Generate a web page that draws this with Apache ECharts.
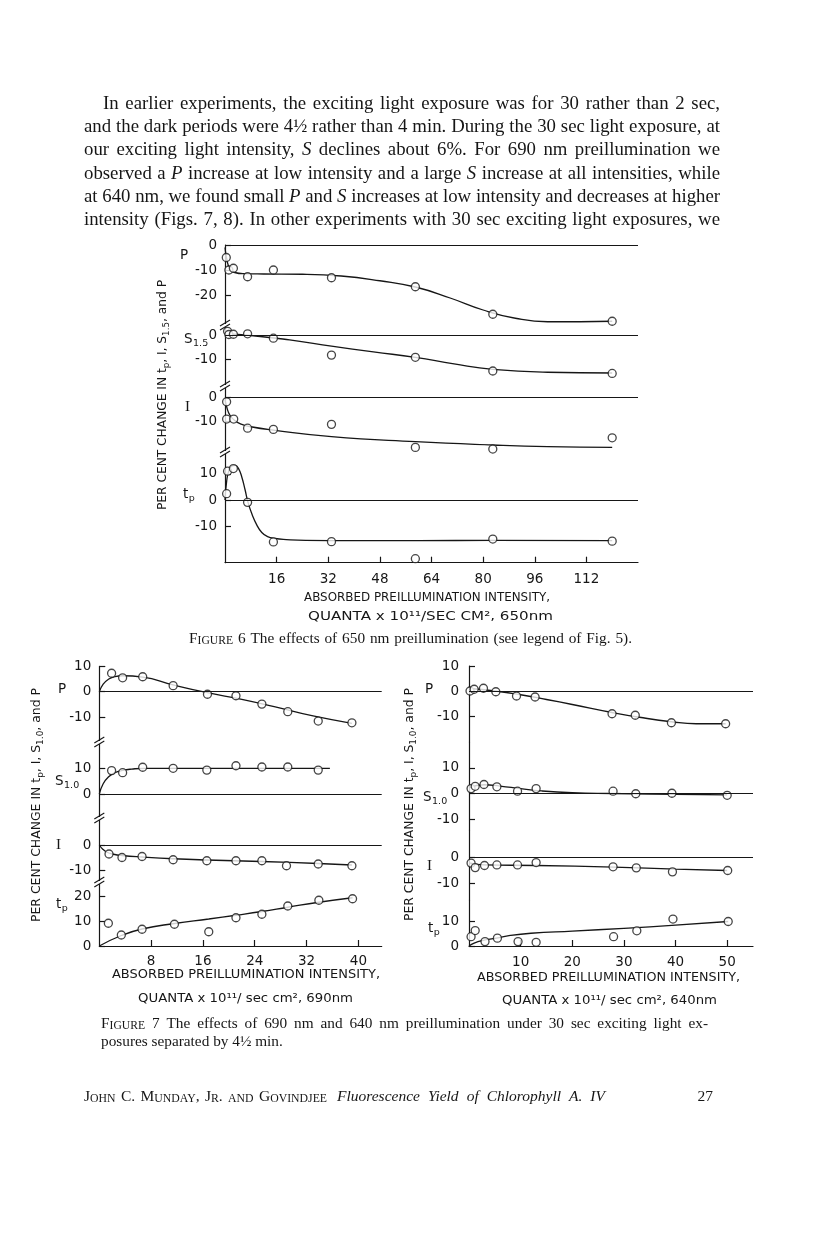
<!DOCTYPE html>
<html>
<head>
<meta charset="utf-8">
<script src="https://cdn.jsdelivr.net/npm/echarts@6/dist/echarts.min.js"></script>
<style>
html,body{margin:0;padding:0;background:#fff;}
#c{width:816px;height:1234px;}
</style>
</head>
<body>
<div id="c"></div>
<script>
// ================= DATA =================
// ---- Figure 6 : 650 nm ----
const fig6XTicks = [16, 32, 48, 64, 80, 96, 112];
const fig6PTicks = [0, -10, -20];
const fig6STicks = [0, -10];
const fig6ITicks = [0, -10];
const fig6TpTicks = [10, 0, -10];

const fig6PX = [0.4, 1.2, 2.6, 7, 15, 33, 59, 83, 120];
const fig6PY = [-5, -10, -9.3, -12.7, -10, -13.1, -16.7, -27.7, -30.5];
const fig6PCurveX = [0, 0.6, 1.5, 3, 6, 12, 24, 36, 48, 59, 70, 80, 90, 100, 120];
const fig6PCurveY = [-1, -6, -9.5, -11, -11.5, -11.6, -11.7, -12.4, -14.3, -16.8, -21.3, -26, -29.3, -30.7, -30.5];

const fig6SX = [0.8, 1.2, 2.6, 7, 15, 33, 59, 83, 120];
const fig6SY = [1.5, 0.2, 0.3, 0.5, -1.3, -8.2, -9.1, -14.7, -15.7];
const fig6SCurveX = [0, 8, 20, 33, 46, 59, 71, 83, 100, 120];
const fig6SCurveY = [0.4, -0.2, -2, -4.5, -6.9, -9.1, -11.8, -14, -15.2, -15.5];

const fig6IX = [0.5, 0.5, 2.7, 7, 15, 33, 59, 83, 120];
const fig6IY = [-2, -9.2, -9.2, -13, -13.5, -11.4, -21, -21.7, -17];
const fig6ICurveX = [0, 0.6, 1.5, 3, 5, 8, 15, 33, 59, 83, 100, 120];
const fig6ICurveY = [-1, -4.5, -7.5, -9.8, -11.3, -12.4, -13.8, -16.5, -18.6, -20, -20.7, -21];

const fig6TpX = [0.5, 0.8, 2.6, 7, 15, 33, 59, 83, 120];
const fig6TpY = [2.4, 11, 12, -0.9, -16, -15.9, -22.4, -14.9, -15.7];
const fig6TpCurveX = [0, 0.5, 1.2, 2.2, 3.2, 4.2, 5.2, 6.2, 7.2, 8.4, 9.8, 11.4, 13.2, 15.5, 19, 25, 40, 60, 83, 120];
const fig6TpCurveY = [0, 7, 11.2, 13, 13.2, 12, 8.8, 4, -1.2, -5.5, -9.4, -12.4, -14, -14.7, -15.1, -15.4, -15.5, -15.5, -15.4, -15.5];

// ---- Figure 7 left : 690 nm ----
const f7LXTicks = [8, 16, 24, 32, 40];
const f7LPTicks = [10, 0, -10];
const f7LSTicks = [10, 0];
const f7LITicks = [0, -10];
const f7LTpTicks = [20, 10, 0];

const f7LPX = [1.9, 3.6, 6.7, 11.4, 16.7, 21.1, 25.1, 29.1, 33.8, 39];
const f7LPY = [7.3, 5.5, 5.9, 2.4, -1, -1.6, -4.9, -7.9, -11.6, -12.3];
const f7LPCurveX = [0, 0.6, 1.4, 2.4, 3.6, 6.7, 11.4, 16.7, 22, 27, 33, 39];
const f7LPCurveY = [0, 3, 4.9, 6, 6.3, 5.8, 2.7, -0.4, -3, -5.9, -9.6, -12.5];

const f7LSX = [1.9, 3.6, 6.7, 11.4, 16.6, 21.1, 25.1, 29.1, 33.8];
const f7LSY = [9.1, 8.3, 10.4, 10, 9.3, 11, 10.5, 10.5, 9.3];
const f7LSCurveX = [0, 0.6, 1.4, 2.4, 3.6, 5, 7, 10, 20, 35.6];
const f7LSCurveY = [0, 4, 6.6, 8.3, 9.2, 9.7, 10, 10, 10, 10];

const f7LIX = [1.5, 3.5, 6.6, 11.4, 16.6, 21.1, 25.1, 28.9, 33.8, 39];
const f7LIY = [-3.6, -5, -4.6, -5.9, -6.3, -6.3, -6.3, -8.3, -7.6, -8.3];
const f7LICurveX = [0, 0.5, 1.2, 2.2, 3.5, 6.6, 11.4, 16.6, 25, 33.8, 39];
const f7LICurveY = [0, -1.6, -2.9, -3.7, -4.2, -4.8, -5.5, -6, -6.6, -7.4, -8];

const f7LTpX = [1.4, 3.4, 6.6, 11.6, 16.9, 21.1, 25.1, 29.1, 33.9, 39.1];
const f7LTpY = [9.1, 4.4, 6.7, 8.7, 5.7, 11.3, 12.7, 16, 18.3, 18.9];
const f7LTpCurveX = [0, 3.4, 6.6, 11.6, 16.9, 21.1, 25.1, 29.1, 33.9, 39.1];
const f7LTpCurveY = [0, 4.2, 6.8, 9, 10.8, 12.3, 13.8, 15.5, 17.5, 19.3];

// ---- Figure 7 right : 640 nm ----
const f7RXTicks = [10, 20, 30, 40, 50];
const f7RPTicks = [10, 0, -10];
const f7RSTicks = [10, 0, -10];
const f7RITicks = [0, -10];
const f7RTpTicks = [10, 0];

const f7RPX = [0.2, 1.0, 2.8, 5.2, 9.2, 12.8, 27.7, 32.2, 39.2, 49.7];
const f7RPY = [0, 0.7, 1.1, -0.3, -2, -2.4, -9.1, -9.7, -12.7, -13.1];
const f7RPCurveX = [0, 5, 10, 15, 20, 27.7, 33, 39.2, 44, 49.7];
const f7RPCurveY = [1, 0, -1.5, -3.4, -5.4, -8.6, -10.5, -12.3, -13.1, -13.1];

const f7RSX = [0.4, 1.2, 2.9, 5.4, 9.4, 13, 27.9, 32.3, 39.3, 50];
const f7RSY = [1.9, 2.8, 3.5, 2.6, 0.9, 1.9, 0.9, -0.1, 0.1, -0.7];
const f7RSCurveX = [0, 2.9, 6, 10, 14, 20, 27.9, 35, 50];
const f7RSCurveY = [2.2, 3.4, 2.9, 1.9, 1, 0.3, 0, -0.2, -0.5];

const f7RIX = [0.4, 1.2, 3, 5.4, 9.4, 13, 27.9, 32.4, 39.4, 50.1];
const f7RIY = [-2.3, -4, -3.2, -3, -3, -2.1, -3.7, -4.1, -5.6, -5.1];
const f7RICurveX = [0, 3, 13, 28, 40, 50];
const f7RICurveY = [-2.2, -3, -3.2, -3.8, -4.6, -5.1];

const f7RTpX = [0.4, 1.2, 3.1, 5.5, 9.5, 13, 28, 32.5, 39.5, 50.2];
const f7RTpY = [3.8, 6.3, 1.8, 3.2, 1.8, 1.5, 3.8, 6.2, 11, 10];
const f7RTpCurveX = [0, 1, 2.5, 5.3, 8, 12, 20, 30, 40, 50.2];
const f7RTpCurveY = [0, 1.2, 2.2, 3.2, 4.3, 5.2, 6.1, 7.2, 8.5, 10];

// ---- Page text ----
const bodyLines = [
  'In earlier experiments, the exciting light exposure was for 30 rather than 2 sec,',
  'and the dark periods were 4½ rather than 4 min. During the 30 sec light exposure, at',
  'our exciting light intensity, *S* declines about 6%. For 690 nm preillumination we',
  'observed a *P* increase at low intensity and a large *S* increase at all intensities, while',
  'at 640 nm, we found small *P* and *S* increases at low intensity and decreases at higher',
  'intensity (Figs. 7, 8). In other experiments with 30 sec exciting light exposures, we'
];
const fig6Caption = 'F^IGURE^ 6  The effects of 650 nm preillumination (see legend of Fig. 5).';
const fig7Caption1 = 'F^IGURE^ 7  The effects of 690 nm and 640 nm preillumination under 30 sec exciting light ex-';
const fig7Caption2 = 'posures separated by 4½ min.';
const footerAuthors = 'J^OHN^ C. M^UNDAY^, J^R^. ^AND^ G^OVINDJEE^';
const footerTitle = '*Fluorescence Yield of Chlorophyll A. IV*';
const pageNumber = '27';
const xTitle1 = 'ABSORBED PREILLUMINATION INTENSITY,';
const fig6XTitle2 = 'QUANTA x 10¹¹/SEC CM², 650nm';
const f7LXTitle2 = 'QUANTA x 10¹¹/ sec cm², 690nm';
const f7RXTitle2 = 'QUANTA x 10¹¹/ sec cm², 640nm';

// ================= RENDERING =================
const INK = '#161616';
const SANS = '"DejaVu Sans", "Liberation Sans", sans-serif';
const SERIF = '"Liberation Serif", "Times New Roman", serif';

const mctx = document.createElement('canvas').getContext('2d');
function measure(t, font) { mctx.font = font; return mctx.measureText(t).width; }
const zip = (a, b) => a.map((v, i) => [v, b[i]]);

const option = {
  animation: false,
  backgroundColor: '#ffffff',
  grid: [], xAxis: [], yAxis: [], series: [],
  graphic: { elements: [] }
};
const G = option.graphic.elements;

function textEl(t, x, y, font, align, vAlign, extra) {
  return Object.assign({
    type: 'text', x: x, y: y, z: 50, silent: true,
    style: { text: t, font: font, fill: INK, textAlign: align, textVerticalAlign: vAlign, align: align, verticalAlign: vAlign }
  }, extra || {});
}

function parseWords(str) {
  const words = []; let cur = []; let it = false, sc = false, buf = '';
  const flush = () => { if (buf) { cur.push({ t: buf, it: it, sc: sc }); buf = ''; } };
  for (const ch of str) {
    if (ch === '*') { flush(); it = !it; }
    else if (ch === '^') { flush(); sc = !sc; }
    else if (ch === ' ') { flush(); if (cur.length) words.push(cur); cur = []; }
    else buf += ch;
  }
  flush(); if (cur.length) words.push(cur);
  return words;
}
function pieceFont(p, fs, fam) {
  const size = p.sc ? fs * 0.76 : fs;
  return (p.it ? 'italic ' : '') + size.toFixed(2) + 'px ' + fam;
}
// place a line of text starting at x0 (optionally justified to x1); yc = visual centre
function placeLine(str, x0, yc, fs, fam, x1) {
  const words = parseWords(str);
  const pieces = words.map(w => w.map(p => {
    const f = pieceFont(p, fs, fam); const t = p.sc ? p.t.toUpperCase() : p.t;
    return { t: t, f: f, w: measure(t, f) };
  }));
  const widths = pieces.map(w => w.reduce((a, p) => a + p.w, 0));
  const total = widths.reduce((a, b) => a + b, 0);
  let gap = measure(' ', fs + 'px ' + fam);
  if (x1 != null && words.length > 1) gap = (x1 - x0 - total) / (words.length - 1);
  let x = x0;
  const yb = yc + fs * 0.5;
  pieces.forEach(w => {
    w.forEach(p => { G.push(textEl(p.t, x, yb, p.f, 'left', 'bottom')); x += p.w; });
    x += gap;
  });
}
// sans text fitted to a horizontal span
function fitText(t, xa, xb, yc, fs) {
  const f = fs + 'px ' + SANS;
  const w = measure(t, f);
  G.push(textEl(t, (xa + xb) / 2, yc, f, 'center', 'middle', { scaleX: (xb - xa) / w }));
}
// rotated y-axis title, reading bottom to top
function yTitle(xc, ya, yb, subS) {
  const fs = 12.5, sub = 9;
  const txt = 'PER CENT CHANGE IN t{s|p}, I, S{s|' + subS + '}, and P';
  const plain = 'PER CENT CHANGE IN t, I, S, and P';
  const w = measure(plain, fs + 'px ' + SANS) + measure('p' + subS, sub + 'px ' + SANS);
  G.push({
    type: 'text', x: xc, y: (ya + yb) / 2, rotation: Math.PI / 2, scaleX: (yb - ya) / w, z: 50, silent: true,
    style: {
      text: txt, fontSize: fs, fontFamily: SANS, fill: INK, textAlign: 'center', textVerticalAlign: 'middle', align: 'center', verticalAlign: 'middle',
      rich: {
        s: { fontSize: sub, fontFamily: SANS, fill: INK, verticalAlign: 'bottom', lineHeight: 17 }
      }
    }
  });
}
function panelLabel(main, sub, x, y, serif) {
  const fam = serif ? SERIF : SANS;
  const fs = serif ? 15 : 13.5;
  const f = fs + 'px ' + fam;
  G.push(textEl(main, x, y, f, 'left', 'middle'));
  if (sub) G.push(textEl(sub, x + measure(main, f) + 0.5, y + 5, '9.5px ' + SANS, 'left', 'middle'));
}
function breakMark(x, y) {
  G.push({ type: 'rect', z: 49, silent: true, shape: { x: x - 2, y: y - 1, width: 4, height: 3 }, style: { fill: '#fff' } });
  G.push({ type: 'line', z: 50, silent: true, shape: { x1: x - 5, y1: y + 1, x2: x + 5, y2: y - 5 }, style: { stroke: INK, lineWidth: 1.1 } });
  G.push({ type: 'line', z: 50, silent: true, shape: { x1: x - 5, y1: y + 5, x2: x + 5, y2: y - 1 }, style: { stroke: INK, lineWidth: 1.1 } });
}

function buildFigure(fig, panels) {
  panels.forEach((p, k) => {
    const gi = option.grid.length;
    const yMax = (p.zero - p.top) / p.s;
    const yMin = -(p.bottom - p.zero) / p.s;
    const isBottom = k === panels.length - 1;
    option.grid.push({ left: fig.left, top: p.top, width: fig.right - fig.left, height: p.bottom - p.top });
    option.xAxis.push({
      type: 'value', gridIndex: gi, min: 0, max: fig.xMax, show: isBottom,
      axisLine: { show: true, onZero: false, lineStyle: { color: INK, width: 1.2 } },
      axisTick: { show: true, inside: true, length: 6, customValues: fig.xTicks, lineStyle: { color: INK, width: 1.2 } },
      axisLabel: { show: true, customValues: fig.xTicks, margin: fig.xMargin, color: INK, fontFamily: SANS, fontSize: 13.5 },
      splitLine: { show: false }
    });
    option.yAxis.push({
      type: 'value', gridIndex: gi, min: yMin, max: yMax,
      axisLine: { show: true, onZero: false, lineStyle: { color: INK, width: 1.2 } },
      axisTick: { show: true, inside: true, length: 6, customValues: p.ticks, lineStyle: { color: INK, width: 1.2 } },
      axisLabel: { show: true, customValues: p.ticks, margin: fig.yMargin, color: INK, fontFamily: SANS, fontSize: 13.5 },
      splitLine: { show: false }
    });
    option.series.push({
      type: 'line', xAxisIndex: gi, yAxisIndex: gi, data: zip(p.cx, p.cy),
      smooth: 0.5, showSymbol: false, symbol: 'none', silent: true, z: 2,
      lineStyle: { color: INK, width: 1.3 },
      markLine: { silent: true, symbol: ['none', 'none'], label: { show: false },
        lineStyle: { color: INK, width: 1.1, type: 'solid' }, data: [{ yAxis: 0 }] }
    });
    option.series.push({
      type: 'scatter', xAxisIndex: gi, yAxisIndex: gi, data: zip(p.x, p.y), silent: true, z: 3,
      symbol: 'circle', symbolSize: 8,
      itemStyle: { color: '#ffffff', borderColor: INK, borderWidth: 1.3 }
    });
  });
}

// ---- Figure 6 ----
buildFigure({ left: 225, right: 638, xMax: 128, xTicks: fig6XTicks, xMargin: 10, yMargin: 8 }, [
  { zero: 245, s: 2.5, top: 245, bottom: 325, ticks: fig6PTicks, x: fig6PX, y: fig6PY, cx: fig6PCurveX, cy: fig6PCurveY },
  { zero: 335, s: 2.45, top: 325, bottom: 386, ticks: fig6STicks, x: fig6SX, y: fig6SY, cx: fig6SCurveX, cy: fig6SCurveY },
  { zero: 397, s: 2.4, top: 386, bottom: 452, ticks: fig6ITicks, x: fig6IX, y: fig6IY, cx: fig6ICurveX, cy: fig6ICurveY },
  { zero: 500, s: 2.62, top: 452, bottom: 562.7, ticks: fig6TpTicks, x: fig6TpX, y: fig6TpY, cx: fig6TpCurveX, cy: fig6TpCurveY }
]);
// ---- Figure 7 left ----
buildFigure({ left: 99.3, right: 381.7, xMax: 43.6, xTicks: f7LXTicks, xMargin: 8, yMargin: 8 }, [
  { zero: 691.7, s: 2.53, top: 666.4, bottom: 742, ticks: f7LPTicks, x: f7LPX, y: f7LPY, cx: f7LPCurveX, cy: f7LPCurveY },
  { zero: 794, s: 2.57, top: 742, bottom: 818, ticks: f7LSTicks, x: f7LSX, y: f7LSY, cx: f7LSCurveX, cy: f7LSCurveY },
  { zero: 845, s: 2.5, top: 818, bottom: 882, ticks: f7LITicks, x: f7LIX, y: f7LIY, cx: f7LICurveX, cy: f7LICurveY },
  { zero: 946, s: 2.5, top: 882, bottom: 946, ticks: f7LTpTicks, x: f7LTpX, y: f7LTpY, cx: f7LTpCurveX, cy: f7LTpCurveY }
]);
// ---- Figure 7 right ----
buildFigure({ left: 469, right: 753, xMax: 55, xTicks: f7RXTicks, xMargin: 9, yMargin: 10 }, [
  { zero: 691, s: 2.5, top: 666, bottom: 742, ticks: f7RPTicks, x: f7RPX, y: f7RPY, cx: f7RPCurveX, cy: f7RPCurveY },
  { zero: 793.5, s: 2.57, top: 742, bottom: 830, ticks: f7RSTicks, x: f7RSX, y: f7RSY, cx: f7RSCurveX, cy: f7RSCurveY },
  { zero: 857, s: 2.65, top: 830, bottom: 900, ticks: f7RITicks, x: f7RIX, y: f7RIY, cx: f7RICurveX, cy: f7RICurveY },
  { zero: 946, s: 2.45, top: 900, bottom: 946, ticks: f7RTpTicks, x: f7RTpX, y: f7RTpY, cx: f7RTpCurveX, cy: f7RTpCurveY }
]);

// ---- breaks ----
[325, 386, 452].forEach(y => breakMark(225, y));
[742, 818, 882].forEach(y => breakMark(99.3, y));

// ---- panel labels ----
panelLabel('P', null, 180, 255);
panelLabel('S', '1.5', 184, 339);
panelLabel('I', null, 185, 407, true);
panelLabel('t', 'p', 183, 494);

panelLabel('P', null, 58, 689);
panelLabel('S', '1.0', 55, 781);
panelLabel('I', null, 56, 845, true);
panelLabel('t', 'p', 56, 904);

panelLabel('P', null, 425, 689);
panelLabel('S', '1.0', 423, 797);
panelLabel('I', null, 427, 866, true);
panelLabel('t', 'p', 428, 928);

// ---- axis titles ----
yTitle(163, 280, 510, '1.5');
yTitle(37, 688, 922, '1.0');
yTitle(410, 688, 921, '1.0');

fitText(xTitle1, 304, 550, 598, 12.5);
fitText(fig6XTitle2, 308, 553, 617, 12);
fitText(xTitle1, 112, 380, 975, 12.5);
fitText(f7LXTitle2, 138, 353, 999, 12.5);
fitText(xTitle1, 477, 740, 978, 12.5);
fitText(f7RXTitle2, 502, 717, 1001, 12.5);

// ---- page text ----
const bodyY = [104, 127.3, 150.6, 173.9, 197.2, 220.5];
bodyLines.forEach((l, i) => placeLine(l, i === 0 ? 103 : 84, bodyY[i], 18.8, SERIF, 720));
placeLine(fig6Caption, 189, 639, 15.3, SERIF, 632);
placeLine(fig7Caption1, 101, 1024, 15.3, SERIF, 708);
placeLine(fig7Caption2, 101, 1042, 15.3, SERIF);
placeLine(footerAuthors, 84, 1097, 15.5, SERIF, 327);
placeLine(footerTitle, 337, 1097, 15.5, SERIF, 605);
G.push(textEl(pageNumber, 713, 1097, '15.5px ' + SERIF, 'right', 'middle'));

const chart = echarts.init(document.getElementById('c'), null, { renderer: 'canvas' });
chart.setOption(option);
</script>
</body>
</html>
